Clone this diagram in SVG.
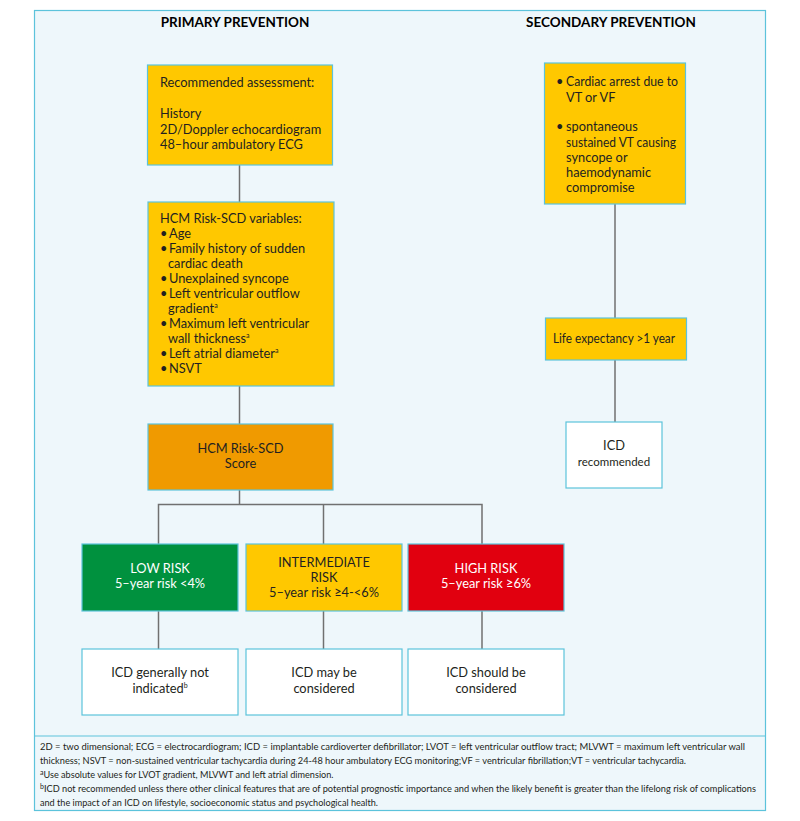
<svg xmlns="http://www.w3.org/2000/svg" width="800" height="821" viewBox="0 0 800 821">
<style>
text{font-family:Lato,"Liberation Sans",sans-serif;fill:#231f20}
.t{font-size:12.8px}
.c{text-anchor:middle}
.w{fill:#ffffff}
.h{font-size:13.5px;font-weight:bold;fill:#000}
.f{font-size:9.6px}
.sup{font-size:7px}
.box{stroke:#5cc3db;stroke-width:1.2}
.y{fill:#ffc800}
.o{fill:#f09a00}
.g{fill:#00913e}
.r{fill:#e1000f}
.wh{fill:#ffffff}
.ln{stroke:#707070;stroke-width:1.5;fill:none}
</style>
<rect width="800" height="821" fill="#ffffff"/>
<rect x="34.5" y="10.5" width="731" height="800" fill="#eef7fb" stroke="#5cc3db" stroke-width="1.2"/>
<line x1="34.5" y1="736" x2="765.5" y2="736" stroke="#5cc3db" stroke-width="1.2"/>
<text class="h c" x="235" y="27">PRIMARY PREVENTION</text>
<text class="h c" x="611" y="27">SECONDARY PREVENTION</text>

<g id="connectors">
<line class="ln" x1="239.5" y1="165" x2="239.5" y2="202"/>
<line class="ln" x1="239.5" y1="386" x2="239.5" y2="424"/>
<polyline class="ln" points="239.5,490 239.5,504.5"/>
<polyline class="ln" points="158.5,544 158.5,504.5 482,504.5 482,544"/>
<line class="ln" x1="323.5" y1="504.5" x2="323.5" y2="544"/>
<line class="ln" x1="158.5" y1="611" x2="158.5" y2="649"/>
<line class="ln" x1="323.5" y1="611" x2="323.5" y2="649"/>
<line class="ln" x1="482" y1="611" x2="482" y2="649"/>
<line class="ln" x1="615" y1="204" x2="615" y2="318"/>
<line class="ln" x1="615" y1="360" x2="615" y2="422"/>
</g>

<g id="assessment">
<rect class="box y" x="147.5" y="65" width="185" height="100"/>
<text class="t" x="160" y="87">Recommended assessment:</text>
<text class="t" x="160" y="118">History</text>
<text class="t" x="160" y="133.5">2D/Doppler echocardiogram</text>
<text class="t" x="160" y="149">48–hour ambulatory ECG</text>
</g>

<g id="variables">
<rect class="box y" x="148" y="202" width="186" height="184"/>
<text class="t" x="160" y="223">HCM Risk-SCD variables:</text>
<text class="t" x="160" y="238">•</text><text class="t" x="169" y="238">Age</text>
<text class="t" x="160" y="253">•</text><text class="t" x="169" y="253">Family history of sudden</text>
<text class="t" x="168" y="268">cardiac death</text>
<text class="t" x="160" y="283">•</text><text class="t" x="169" y="283">Unexplained syncope</text>
<text class="t" x="160" y="298">•</text><text class="t" x="169" y="298">Left ventricular outflow</text>
<text class="t" x="168" y="313">gradient<tspan class="sup" dy="-5">a</tspan></text>
<text class="t" x="160" y="328">•</text><text class="t" x="169" y="328">Maximum left ventricular</text>
<text class="t" x="168" y="343">wall thickness<tspan class="sup" dy="-5">a</tspan></text>
<text class="t" x="160" y="358">•</text><text class="t" x="169" y="358">Left atrial diameter<tspan class="sup" dy="-5">a</tspan></text>
<text class="t" x="160" y="373">•</text><text class="t" x="169" y="373">NSVT</text>
</g>

<g id="score">
<rect class="box o" x="148" y="424" width="185" height="66"/>
<text class="t c" x="240.5" y="453">HCM Risk-SCD</text>
<text class="t c" x="240.5" y="468">Score</text>
</g>

<g id="low">
<rect class="box g" x="82" y="544" width="156" height="67"/>
<text class="t c w" x="160" y="573">LOW RISK</text>
<text class="t c w" x="160" y="588">5–year risk &lt;4%</text>
</g>
<g id="intermediate">
<rect class="box y" x="246" y="544" width="156" height="67"/>
<text class="t c" x="324" y="567">INTERMEDIATE</text>
<text class="t c" x="324" y="582">RISK</text>
<text class="t c" x="324" y="597">5–year risk ≥4-&lt;6%</text>
</g>
<g id="high">
<rect class="box r" x="408" y="544" width="156" height="67"/>
<text class="t c w" x="486" y="573">HIGH RISK</text>
<text class="t c w" x="486" y="588">5–year risk ≥6%</text>
</g>

<g id="icd-low">
<rect class="box wh" x="82" y="649" width="156" height="66"/>
<text class="t c" x="160" y="677">ICD generally not</text>
<text class="t c" x="160" y="693">indicated<tspan class="sup" dy="-5">b</tspan></text>
</g>
<g id="icd-mid">
<rect class="box wh" x="246" y="649" width="156" height="66"/>
<text class="t c" x="324" y="677">ICD may be</text>
<text class="t c" x="324" y="693">considered</text>
</g>
<g id="icd-high">
<rect class="box wh" x="408" y="649" width="156" height="66"/>
<text class="t c" x="486" y="677">ICD should be</text>
<text class="t c" x="486" y="693">considered</text>
</g>

<g id="secondary">
<rect class="box y" x="544.5" y="63" width="141" height="141"/>
<text class="t" x="556" y="86">•</text><text class="t" x="566" y="86" textLength="112" lengthAdjust="spacingAndGlyphs">Cardiac arrest due to</text>
<text class="t" x="566" y="102">VT or VF</text>
<text class="t" x="556" y="131">•</text><text class="t" x="566" y="131">spontaneous</text>
<text class="t" x="566" y="147" textLength="110" lengthAdjust="spacingAndGlyphs">sustained VT causing</text>
<text class="t" x="566" y="162">syncope or</text>
<text class="t" x="566" y="177">haemodynamic</text>
<text class="t" x="566" y="192">compromise</text>
</g>
<g id="life">
<rect class="box y" x="545.5" y="318" width="141" height="42"/>
<text class="t" x="553" y="343" textLength="122" lengthAdjust="spacingAndGlyphs">Life expectancy &gt;1 year</text>
</g>
<g id="icd-rec">
<rect class="box wh" x="566" y="422" width="96" height="66"/>
<text class="t c" x="614" y="450">ICD</text>
<text class="c" style="font-size:11.5px" x="614" y="466">recommended</text>
</g>

<g id="footer">
<text class="f" x="40" y="750" textLength="705" lengthAdjust="spacingAndGlyphs">2D = two dimensional; ECG = electrocardiogram; ICD = implantable cardioverter defibrillator;  LVOT = left ventricular outflow tract; MLVWT = maximum left ventricular wall</text>
<text class="f" x="40" y="764" textLength="646" lengthAdjust="spacingAndGlyphs">thickness; NSVT = non-sustained ventricular tachycardia during 24-48 hour ambulatory ECG monitoring;VF = ventricular fibrillation;VT = ventricular tachycardia.</text>
<text class="f" x="40" y="778"><tspan class="sup" dy="-3">a</tspan><tspan dy="3" textLength="290" lengthAdjust="spacingAndGlyphs">Use absolute values for LVOT gradient, MLVWT and left atrial dimension.</tspan></text>
<text class="f" x="40" y="792"><tspan class="sup" dy="-3">b</tspan><tspan dy="3" textLength="712" lengthAdjust="spacingAndGlyphs">ICD not recommended unless there other clinical features that are of potential prognostic importance and when the likely benefit is greater than the lifelong risk of complications</tspan></text>
<text class="f" x="40" y="806" textLength="338" lengthAdjust="spacingAndGlyphs">and the impact of an ICD on lifestyle, socioeconomic status and psychological health.</text>
</g>
</svg>
